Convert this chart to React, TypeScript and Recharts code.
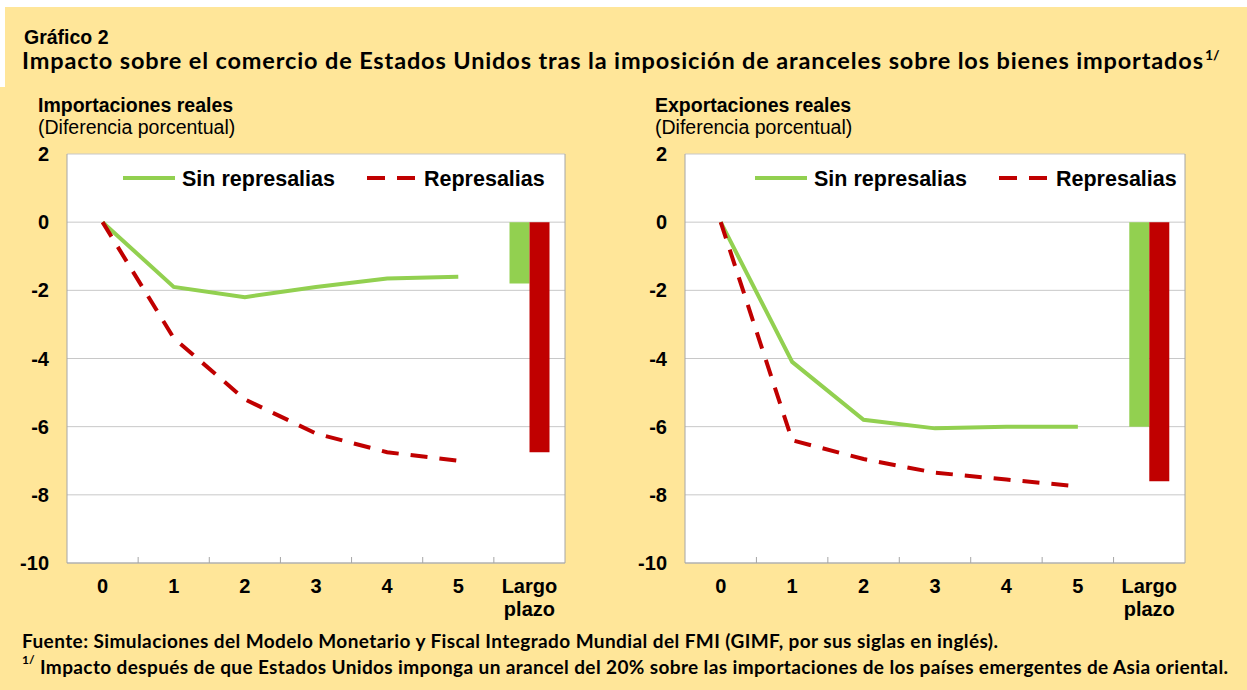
import { ComposedChart, Line, Bar, XAxis, YAxis, CartesianGrid } from "recharts";

// Categorías del eje X (años tras la imposición + largo plazo)
const categories = ["0", "1", "2", "3", "4", "5", "Largo plazo"];
const seriesNames = ["Sin represalias", "Represalias"];
const yTicks = [2, 0, -2, -4, -6, -8, -10];

// Importaciones reales (diferencia porcentual)
const impSinRepresalias = [0, -1.9, -2.2, -1.9, -1.65, -1.6];
const impRepresalias = [0, -3.4, -5.2, -6.2, -6.75, -7.0];
const impLargoPlazo = [-1.8, -6.75];

// Exportaciones reales (diferencia porcentual)
const expSinRepresalias = [0, -4.1, -5.8, -6.05, -6.0, -6.0];
const expRepresalias = [0, -6.4, -6.95, -7.35, -7.55, -7.75];
const expLargoPlazo = [-6.0, -7.6];

const GREEN = "#92D050";
const RED = "#C00000";
const YELLOW = "#FFE699";
const AXIS = "#A6A6A6";
const GRID = "#C8C8C8";
const ARIAL = "'Liberation Sans', Arial, sans-serif";
const CALIBRI = "Lato, 'Open Sans', sans-serif";
const DASH = "17 12";

interface Row {
  cat: string;
  sin: number | null;
  con: number | null;
  sinLP: number | null;
  conLP: number | null;
}

function buildRows(sin: number[], con: number[], lp: number[]): Row[] {
  return categories.map((cat, i) => {
    const isLP = i === categories.length - 1;
    return {
      cat,
      sin: isLP ? null : sin[i],
      con: isLP ? null : con[i],
      sinLP: isLP ? lp[0] : null,
      conLP: isLP ? lp[1] : null,
    };
  });
}

/** X tick: label (two lines for "Largo plazo") plus a small mark at the band boundary. */
function makeXTick(bandWidth: number) {
  return function XTick(props: any) {
    const { x, y, payload, index } = props;
    const lines = String(payload.value).split(" ");
    return (
      <g>
        {index < categories.length - 1 && (
          <line
            x1={x + bandWidth / 2}
            x2={x + bandWidth / 2}
            y1={y}
            y2={y - 6}
            stroke={AXIS}
            strokeWidth={1}
          />
        )}
        <text
          x={x}
          y={y + 30}
          textAnchor="middle"
          fill="#000"
          fontFamily={ARIAL}
          fontWeight={700}
          fontSize={20}
        >
          {lines.map((l, i) => (
            <tspan key={i} x={x} dy={i === 0 ? 0 : 23}>
              {l}
            </tspan>
          ))}
        </text>
      </g>
    );
  };
}

interface PanelProps {
  rows: Row[];
  width: number;
  margin: { top: number; right: number; bottom: number; left: number };
  leftTickMargin: number;
  rightTickMargin: number;
}

function Panel({ rows, width, margin, leftTickMargin, rightTickMargin }: PanelProps) {
  const axisW = 60;
  const plotW = width - margin.left - margin.right - axisW * 2;
  const tickStyle = { fill: "#000", fontSize: 20, fontWeight: 700, fontFamily: ARIAL };
  return (
    <ComposedChart
      width={width}
      height={500}
      data={rows}
      margin={margin}
      barGap={0}
      barCategoryGap="22%"
    >
      <CartesianGrid yAxisId="l" vertical={false} stroke={GRID} fill="#fff" fillOpacity={1} />
      <XAxis
        dataKey="cat"
        height={60}
        interval={0}
        tickLine={false}
        tickSize={0}
        tickMargin={0}
        axisLine={{ stroke: AXIS }}
        tick={makeXTick(plotW / categories.length)}
      />
      <YAxis
        yAxisId="l"
        width={axisW}
        domain={[-10, 2]}
        ticks={yTicks}
        interval={0}
        tickLine={false}
        tickSize={0}
        tickMargin={leftTickMargin}
        axisLine={{ stroke: AXIS }}
        tick={tickStyle}
      />
      <YAxis
        yAxisId="r"
        orientation="right"
        width={axisW}
        domain={[-10, 2]}
        ticks={yTicks}
        interval={0}
        tickLine={false}
        tickSize={0}
        tickMargin={rightTickMargin}
        axisLine={{ stroke: AXIS }}
        tick={{ ...tickStyle, textAnchor: "start" }}
      />
      <Bar yAxisId="l" dataKey="sinLP" fill={GREEN} isAnimationActive={false} />
      <Bar yAxisId="l" dataKey="conLP" fill={RED} isAnimationActive={false} />
      <Line
        yAxisId="l"
        type="linear"
        dataKey="sin"
        name={seriesNames[0]}
        stroke={GREEN}
        strokeWidth={4}
        dot={false}
        activeDot={false}
        isAnimationActive={false}
      />
      <Line
        yAxisId="l"
        type="linear"
        dataKey="con"
        name={seriesNames[1]}
        stroke={RED}
        strokeWidth={4}
        strokeDasharray={DASH}
        dot={false}
        activeDot={false}
        isAnimationActive={false}
      />
    </ComposedChart>
  );
}

function LegendRow({ x, y }: { x: number; y: number }) {
  // x = start of the green swatch
  return (
    <g fontFamily={ARIAL} fontWeight={700} fontSize={21.5} fill="#000">
      <line x1={x} x2={x + 52} y1={y} y2={y} stroke={GREEN} strokeWidth={4} />
      <text x={x + 59} y={y + 8}>{seriesNames[0]}</text>
      <line x1={x + 244} x2={x + 292} y1={y} y2={y} stroke={RED} strokeWidth={4} strokeDasharray="18 12" />
      <text x={x + 301} y={y + 8}>{seriesNames[1]}</text>
    </g>
  );
}

export default function App() {
  const impRows = buildRows(impSinRepresalias, impRepresalias, impLargoPlazo);
  const expRows = buildRows(expSinRepresalias, expRepresalias, expLargoPlazo);

  return (
    <div style={{ position: "absolute", left: 0, top: 0, width: 1247, height: 690, background: "#fff", overflow: "hidden" }}>
      <div style={{ position: "absolute", left: 0, top: 7, width: 1247, height: 683, background: YELLOW }} />
      <div style={{ position: "absolute", left: 0, top: 7, width: 5, height: 80, background: "#fff" }} />

      <div style={{ position: "absolute", left: 0, top: 130 }}>
        <Panel
          rows={impRows}
          width={640}
          margin={{ top: 24, right: 15, bottom: 7, left: 7 }}
          leftTickMargin={18}
          rightTickMargin={20}
        />
      </div>
      <div style={{ position: "absolute", left: 620, top: 130 }}>
        <Panel
          rows={expRows}
          width={627}
          margin={{ top: 24, right: 2, bottom: 7, left: 5 }}
          leftTickMargin={18}
          rightTickMargin={19}
        />
      </div>

      <svg width={1247} height={690} style={{ position: "absolute", left: 0, top: 0, pointerEvents: "none" }}>
        <text x={24} y={44} fontFamily={ARIAL} fontWeight={700} fontSize={19.5} fill="#000">
          Gráfico 2
        </text>
        <text x={22} y={69} fontFamily={CALIBRI} fontWeight={700} fontSize={23.5} fill="#000" textLength={1181} lengthAdjust="spacing">
          Impacto sobre el comercio de Estados Unidos tras la imposición de aranceles sobre los bienes importados
        </text>
        <text x={1205} y={60} fontFamily={CALIBRI} fontWeight={700} fontSize={14} fill="#000">
          1/
        </text>

        <text x={38} y={112} fontFamily={ARIAL} fontWeight={700} fontSize={19.5} fill="#000">
          Importaciones reales
        </text>
        <text x={38} y={134} fontFamily={ARIAL} fontSize={19.5} fill="#000">
          (Diferencia porcentual)
        </text>
        <text x={655} y={112} fontFamily={ARIAL} fontWeight={700} fontSize={19.5} fill="#000">
          Exportaciones reales
        </text>
        <text x={655} y={134} fontFamily={ARIAL} fontSize={19.5} fill="#000">
          (Diferencia porcentual)
        </text>

        <LegendRow x={123} y={178} />
        <LegendRow x={755} y={178} />

        <text x={22} y={648} fontFamily={CALIBRI} fontWeight={700} fontSize={19} fill="#000" textLength={976} lengthAdjust="spacing">
          Fuente: Simulaciones del Modelo Monetario y Fiscal Integrado Mundial del FMI (GIMF, por sus siglas en inglés).
        </text>
        <text x={22} y={664} fontFamily={CALIBRI} fontWeight={700} fontSize={12} fill="#000">
          1/
        </text>
        <text x={40} y={674} fontFamily={CALIBRI} fontWeight={700} fontSize={19} fill="#000" textLength={1188} lengthAdjust="spacing">
          Impacto después de que Estados Unidos imponga un arancel del 20% sobre las importaciones de los países emergentes de Asia oriental.
        </text>
      </svg>
    </div>
  );
}
